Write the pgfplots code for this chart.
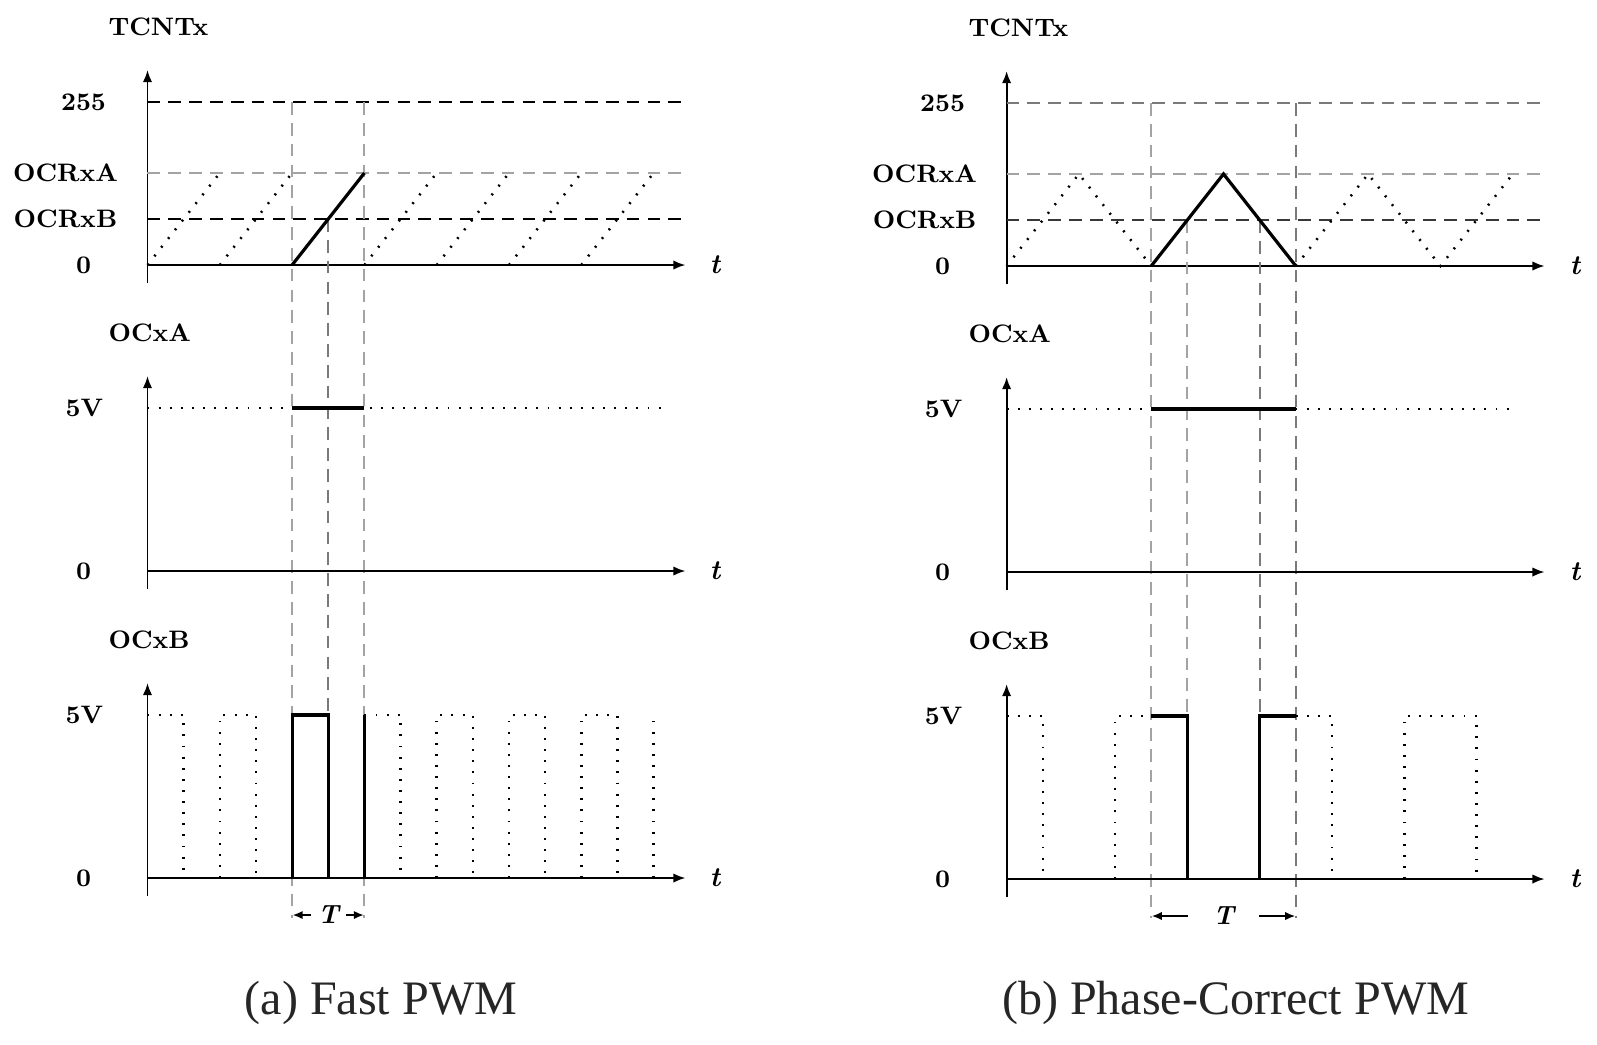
\documentclass[border=0pt]{standalone}
\usepackage{fontspec}
\newfontfamily\capfont{Liberation Serif}
\usepackage{pgfplots}
\pgfplotsset{compat=1.18}
\usetikzlibrary{arrows.meta}
\definecolor{lg}{gray}{0.64}
\definecolor{mg}{gray}{0.48}
\definecolor{dg}{gray}{0.22}
\tikzset{
 dsh/.style={line width=0.7pt, dash pattern=on 4.6pt off 2.9pt},
 dtt/.style={line width=0.9pt, dash pattern=on 0.7pt off 3.3pt, black},
 sol/.style={line width=1.15pt, black},
 lab/.style={font=\fontsize{9.1}{10}\selectfont\bfseries, inner sep=0pt},
 tl/.style={font=\fontsize{10}{12}\selectfont\bfseries\itshape, inner sep=0pt},
}
\pgfplotsset{
 pwm/.style={x=0.36pt,y=0.36pt,xmin=0,xmax=538,ymin=-18,ymax=195,
   axis lines=middle, xtick=\empty, ytick=\empty, clip=false, anchor=south west,
   axis line style={line width=0.7pt, black},
   every inner x axis line/.append style={-{Latex[length=4.4pt,width=3.4pt]}},
   every inner y axis line/.append style={-{Latex[length=4.4pt,width=3.4pt]}},
   unbounded coords=jump,
 }
}
\begin{document}
\begin{tikzpicture}
\useasboundingbox (0pt,0pt) rectangle (574.92pt,-375.84pt);
% ================= LEFT: Fast PWM =================
% TCNTx
\begin{axis}[pwm, at={(53.1pt,-101.88pt)}]
 \addplot[dsh, black] coordinates {(0,163) (540,163)};
 \addplot[dsh, lg] coordinates {(0,92) (540,92)};
 \addplot[dsh, black] coordinates {(0,46) (540,46)};
 % vertical guide lines
 \addplot[dsh, lg] coordinates {(144.6,163) (144.6,-653)};
 \addplot[dsh, lg] coordinates {(216.9,163) (216.9,-653)};
 \addplot[dsh, mg] coordinates {(180.75,46) (180.75,-451)};
 % dotted sawtooth
 \addplot[dtt] coordinates {(0,0) (72.3,92) (72.3,nan) (72.3,0) (144.6,92)
   (144.6,nan) (216.9,0) (289.2,92) (289.2,nan) (289.2,0) (361.5,92)
   (361.5,nan) (361.5,0) (433.8,92) (433.8,nan) (433.8,0) (506.1,92)};
 \addplot[sol] coordinates {(144.6,0) (216.9,92)};
 \node[lab, anchor=west] at (axis cs:-39.5,238) {TCNTx};
 \node[lab] at (axis cs:-64,163) {255};
 \node[lab] at (axis cs:-82,92) {OCRxA};
 \node[lab] at (axis cs:-82,46) {OCRxB};
 \node[lab] at (axis cs:-64,0) {0};
 \node[tl] at (axis cs:567.5,0) {t};
\end{axis}
% OCxA
\begin{axis}[pwm, at={(53.1pt,-212.04pt)}]
 \addplot[dtt] coordinates {(0,163) (519.5,163)};
 \addplot[sol] coordinates {(144.6,163) (216.9,163)};
 \node[lab, anchor=west] at (axis cs:-39.5,238) {OCxA};
 \node[lab] at (axis cs:-63,163) {5V};
 \node[lab] at (axis cs:-64,0) {0};
 \node[tl] at (axis cs:567.5,0) {t};
\end{axis}
% OCxB
\begin{axis}[pwm, at={(53.1pt,-322.56pt)}]
 \addplot[dtt] coordinates {(0,163) (36.15,163) (36.15,0)
   (36.15,nan) (72.3,0) (72.3,163) (108.45,163) (108.45,0)
   (108.45,nan) (216.9,163) (253.05,163) (253.05,0)
   (253.05,nan) (289.2,0) (289.2,163) (325.35,163) (325.35,0)
   (325.35,nan) (361.5,0) (361.5,163) (397.65,163) (397.65,0)
   (397.65,nan) (433.8,0) (433.8,163) (469.95,163) (469.95,0)
   (469.95,nan) (506.1,0) (506.1,163)};
 \addplot[sol] coordinates {(144.6,0) (144.6,163) (180.75,163) (180.75,0)};
 \addplot[sol] coordinates {(216.9,0) (216.9,163)};
 \addplot[line width=0.6pt, black, -{Latex[length=3.6pt,width=3pt]}] coordinates {(163,-37) (145.2,-37)};
 \addplot[line width=0.6pt, black, -{Latex[length=3.6pt,width=3pt]}] coordinates {(198.5,-37) (216.3,-37)};
 \node[font=\fontsize{9.5}{11}\selectfont\bfseries\itshape, inner sep=0pt] at (axis cs:180.75,-37) {T};
 \node[lab, anchor=west] at (axis cs:-39.5,238) {OCxB};
 \node[lab] at (axis cs:-63,163) {5V};
 \node[lab] at (axis cs:-64,0) {0};
 \node[tl] at (axis cs:567.5,0) {t};
\end{axis}
% ================= RIGHT: Phase-correct PWM =================
\begin{axis}[pwm, at={(362.38pt,-102.24pt)}]
 \addplot[dsh, mg] coordinates {(0,163) (533,163)};
 \addplot[dsh, lg] coordinates {(0,92) (533,92)};
 \addplot[dsh, dg] coordinates {(0,46) (533,46)};
 \addplot[dsh, lg] coordinates {(144.6,163) (144.6,-652)};
 \addplot[dsh, mg] coordinates {(289.2,163) (289.2,-652)};
 \addplot[dsh, lg] coordinates {(180.75,46) (180.75,-451)};
 \addplot[dsh, mg] coordinates {(253.05,46) (253.05,-451)};
 \addplot[dtt] coordinates {(0,0) (72.3,92) (144.6,0) (144.6,nan)
   (289.2,0) (361.5,92) (433.8,0) (506.1,92)};
 \addplot[sol] coordinates {(144.6,0) (216.9,92) (289.2,0)};
 \node[lab, anchor=west] at (axis cs:-38.6,238) {TCNTx};
 \node[lab] at (axis cs:-64,163) {255};
 \node[lab] at (axis cs:-82,92) {OCRxA};
 \node[lab] at (axis cs:-82,46) {OCRxB};
 \node[lab] at (axis cs:-64,0) {0};
 \node[tl] at (axis cs:568.4,0) {t};
\end{axis}
\begin{axis}[pwm, at={(362.38pt,-212.4pt)}]
 \addplot[dtt] coordinates {(0,163) (505.4,163)};
 \addplot[sol] coordinates {(144.6,163) (289.2,163)};
 \node[lab, anchor=west] at (axis cs:-38.6,238) {OCxA};
 \node[lab] at (axis cs:-63,163) {5V};
 \node[lab] at (axis cs:-64,0) {0};
 \node[tl] at (axis cs:568.4,0) {t};
\end{axis}
\begin{axis}[pwm, at={(362.38pt,-322.92pt)}]
 \addplot[dtt] coordinates {(0,163) (36.15,163) (36.15,0)
   (36.15,nan) (108.45,0) (108.45,163) (144.6,163)
   (144.6,nan) (289.2,163) (325.35,163) (325.35,0)
   (325.35,nan) (397.65,0) (397.65,163) (469.95,163) (469.95,0)};
 \addplot[sol] coordinates {(144.6,163) (180.75,163) (180.75,0)};
 \addplot[sol] coordinates {(253.05,0) (253.05,163) (289.2,163)};
 \addplot[line width=0.6pt, black, -{Latex[length=3.6pt,width=3pt]}] coordinates {(181,-37) (145.2,-37)};
 \addplot[line width=0.6pt, black, -{Latex[length=3.6pt,width=3pt]}] coordinates {(252.5,-37) (288.6,-37)};
 \node[font=\fontsize{9.5}{11}\selectfont\bfseries\itshape, inner sep=0pt] at (axis cs:216.9,-37) {T};
 \node[lab, anchor=west] at (axis cs:-38.6,238) {OCxB};
 \node[lab] at (axis cs:-63,163) {5V};
 \node[lab] at (axis cs:-64,0) {0};
 \node[tl] at (axis cs:568.4,0) {t};
\end{axis}
% captions
\node[font=\capfont\fontsize{17.3}{20}\selectfont, anchor=base, text=black!85, inner sep=0pt] at (137.16pt,-365.04pt) {(a) Fast PWM};
\node[font=\capfont\fontsize{17.3}{20}\selectfont, anchor=base, text=black!85, inner sep=0pt] at (444.8pt,-365.04pt) {(b) Phase-Correct PWM};
\end{tikzpicture}
\end{document}
